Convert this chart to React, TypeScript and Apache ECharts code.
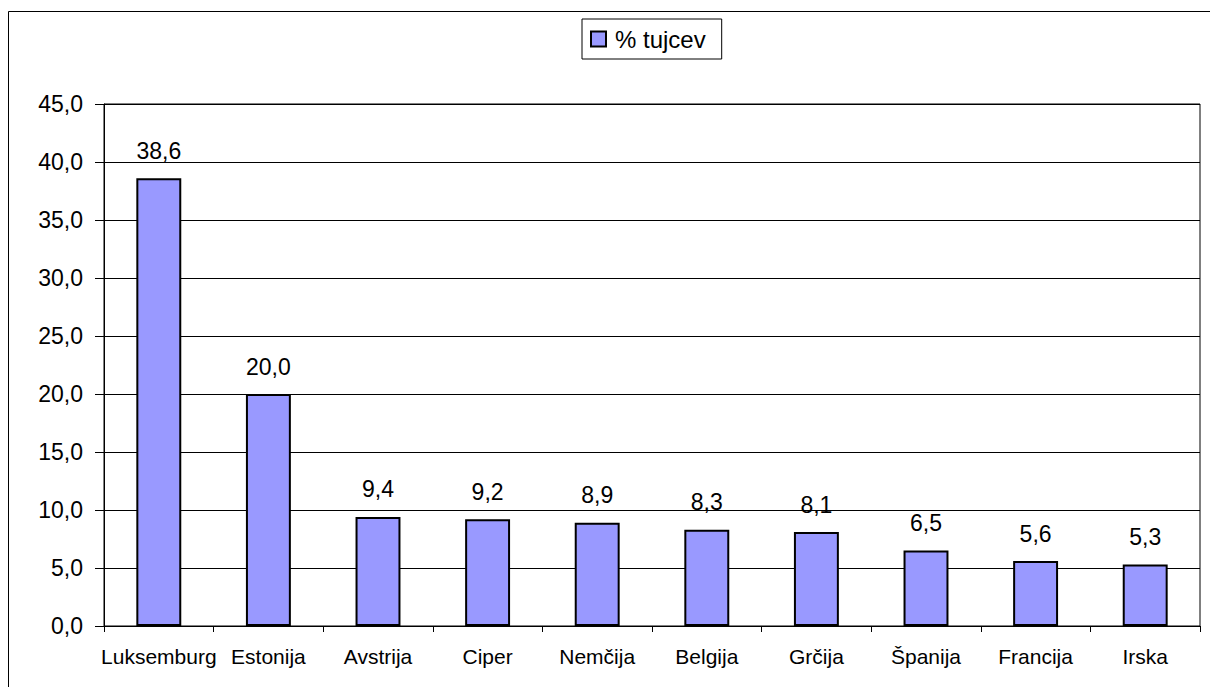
import React, { useEffect, useRef } from "react";
import * as echarts from "echarts";

const categories = ["Luksemburg", "Estonija", "Avstrija", "Ciper", "Nemčija", "Belgija", "Grčija", "Španija", "Francija", "Irska"];
const values = [38.6, 20.0, 9.4, 9.2, 8.9, 8.3, 8.1, 6.5, 5.6, 5.3];
const seriesName = "% tujcev";

const fmt = (v: number) => v.toFixed(1).replace(".", ",");

export default function App() {
  const ref = useRef<HTMLDivElement>(null);
  useEffect(() => {
    if (!ref.current) return;
    const chart = echarts.init(ref.current, null, { renderer: "svg" });
    const font = "Liberation Sans, Arial, sans-serif";
    chart.setOption({
      animation: false,
      backgroundColor: "#fff",
      textStyle: { fontFamily: font },
      graphic: [
        {
          type: "rect",
          shape: { x: 8.5, y: 11.5, width: 1220, height: 700 },
          style: { fill: "none", stroke: "#000", lineWidth: 1 },
          silent: true,
        },
      ],
      legend: {
        data: [seriesName],
        left: 582,
        top: 19,
        padding: [8, 16, 8, 8],
        borderColor: "#000",
        borderWidth: 1,
        backgroundColor: "#fff",
        itemWidth: 15,
        itemHeight: 15,
        icon: "rect",
        itemStyle: { borderColor: "#000", borderWidth: 2 },
        textStyle: { fontFamily: font, fontSize: 24, color: "#000", padding: [0, 0, 0, 4] },
      },
      grid: { left: 104, top: 104, right: 10, bottom: 61, show: true, borderColor: "#000", borderWidth: 1 },
      xAxis: {
        type: "category",
        data: categories,
        axisLine: { lineStyle: { color: "#000", width: 1 } },
        axisTick: { show: true, length: 6, lineStyle: { color: "#000" } },
        axisLabel: { color: "#000", fontSize: 21, fontFamily: font, margin: 20, interval: 0 },
      },
      yAxis: {
        type: "value",
        min: 0,
        max: 45,
        interval: 5,
        axisLine: { show: true, lineStyle: { color: "#000", width: 1 } },
        axisTick: { show: true, length: 9, lineStyle: { color: "#000" } },
        splitLine: { show: true, lineStyle: { color: "#000", width: 1 } },
        axisLabel: { color: "#000", fontSize: 23, fontFamily: font, margin: 21, formatter: (v: number) => fmt(v) },
      },
      series: [
        {
          name: seriesName,
          type: "bar",
          data: values,
          barWidth: "41%",
          itemStyle: { color: "#9999FF", borderColor: "#000", borderWidth: 2 },
          label: {
            show: true,
            position: "top",
            distance: 16,
            color: "#000",
            fontSize: 23,
            fontFamily: font,
            formatter: (p: any) => fmt(p.value),
          },
        },
      ],
    });
    return () => chart.dispose();
  }, []);
  return <div ref={ref} style={{ position: "absolute", left: 0, top: 0, width: 1210, height: 687 }} />;
}
